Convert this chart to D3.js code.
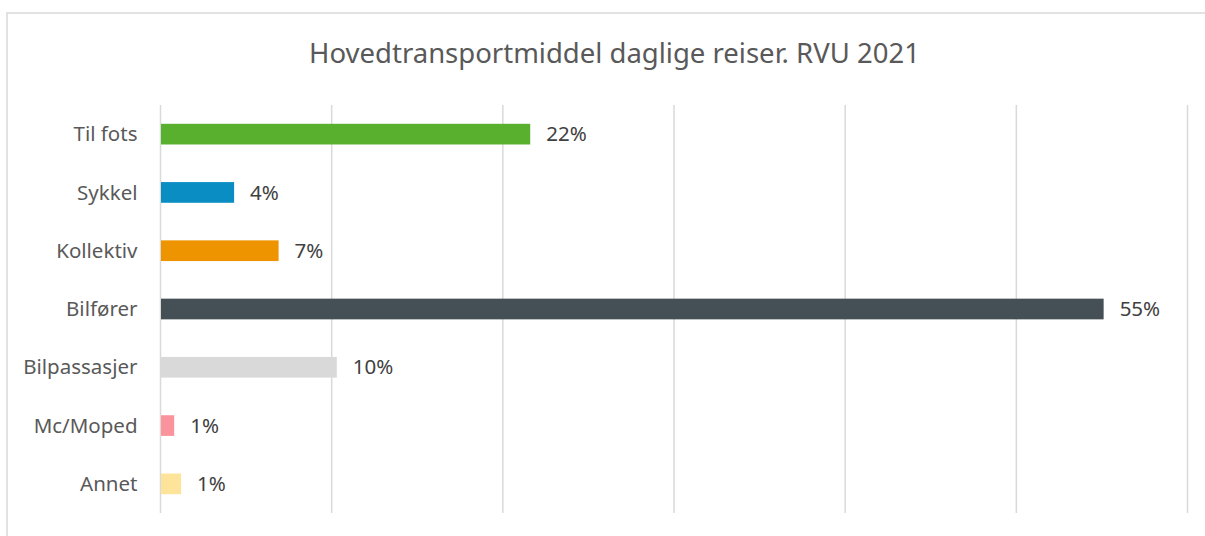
<!DOCTYPE html>
<html>
<head>
<meta charset="utf-8">
<script src="https://cdn.jsdelivr.net/npm/d3@7"></script>
<style>
  body { margin: 0; background: #fff; }
  svg { display: block; font-family: "Noto Sans", sans-serif; }
</style>
</head>
<body>
<svg width="1205" height="536"></svg>
<script>
// data
const title = "Hovedtransportmiddel daglige reiser. RVU 2021";
const categories = ["Til fots", "Sykkel", "Kollektiv", "Bilfører", "Bilpassasjer", "Mc/Moped", "Annet"];
const shares = [0.216, 0.043, 0.069, 0.551, 0.103, 0.008, 0.012];
const colors = ["#59b02f", "#0a8dc2", "#ee9400", "#454f56", "#d9d9d9", "#fb939c", "#fde49a"];
const ticks = [0, 0.1, 0.2, 0.3, 0.4, 0.5, 0.6];

const svg = d3.select("svg");

const area = {
    left: 160.5,
    right: 1187.5,
    top: 105,
    bottom: 513
};

// chart frame (only top and left edges visible)
svg.append("path")
    .attr("d", "M7,536 L7,13 L1205,13")
    .attr("fill", "none")
    .attr("stroke", "#d9d9d9")
    .attr("stroke-width", 1.5);

// title
svg.append("text")
    .attr("x", 614.5)
    .attr("y", 63)
    .attr("text-anchor", "middle")
    .style("font-size", "27.5px")
    .style("fill", "#595959")
    .text(title);

const scaleX = d3.scaleLinear()
    .domain([0, 0.6])
    .range([area.left, area.right]);

const scaleY = d3.scaleBand()
    .domain(categories)
    .range([area.top, area.bottom])
    .paddingInner(0.645)
    .paddingOuter(0.3225);

// vertical gridlines
svg.append("g")
    .selectAll("line")
    .data(ticks)
    .enter()
    .append("line")
    .attr("x1", d => scaleX(d))
    .attr("x2", d => scaleX(d))
    .attr("y1", area.top)
    .attr("y2", area.bottom)
    .attr("stroke", "#d9d9d9")
    .attr("stroke-width", 1.5);

// category axis, no line or ticks
const axisY = d3.axisLeft(scaleY).tickSize(0).tickPadding(23);
const gY = svg.append("g")
    .attr("transform", `translate(${area.left}, 0)`)
    .call(axisY);
gY.select(".domain").remove();
gY.selectAll("text")
    .style("font-family", "Noto Sans, sans-serif")
    .style("font-size", "20.5px")
    .style("fill", "#595959")
    .attr("dy", "0.35em");

const rows = categories.map((c, i) => ({name: c, value: shares[i], color: colors[i]}));

// bars
svg.selectAll("rect.bar")
    .data(rows)
    .enter()
    .append("rect")
    .attr("class", "bar")
    .attr("x", scaleX(0) + 0.5)
    .attr("y", d => scaleY(d.name))
    .attr("width", d => scaleX(d.value) - scaleX(0) - 0.5)
    .attr("height", scaleY.bandwidth())
    .style("fill", d => d.color);

// value labels
const fmt = d3.format(".0%");
svg.selectAll("text.val")
    .data(rows)
    .enter()
    .append("text")
    .attr("class", "val")
    .attr("x", d => scaleX(d.value) + 16)
    .attr("y", d => scaleY(d.name) + scaleY.bandwidth() / 2)
    .attr("dy", "0.35em")
    .style("font-size", "20.5px")
    .style("fill", "#404040")
    .text(d => fmt(d.value));
</script>
</body>
</html>
